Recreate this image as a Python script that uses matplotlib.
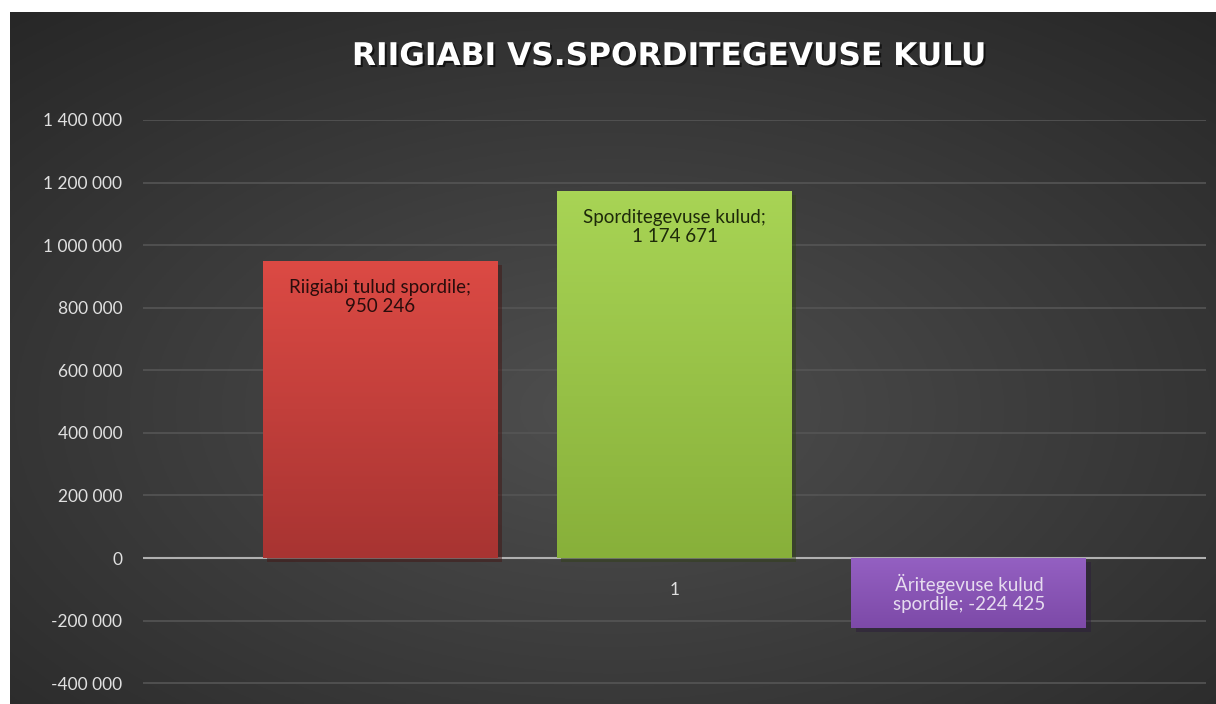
import numpy as np
import matplotlib.pyplot as plt
import matplotlib.patheffects as pe
from matplotlib.colors import to_rgb
from matplotlib.ticker import FuncFormatter

plt.rcParams['font.family'] = ['Lato', 'DejaVu Sans']

title = 'RIIGIABI VS.SPORDITEGEVUSE KULU'
values = [950246, 1174671, -224425]
labels = ['Riigiabi tulud spordile;\n950 246',
          'Sporditegevuse kulud;\n1 174 671',
          'Äritegevuse kulud\nspordile; -224 425']
category = ['1']
yticks = [-400000, -200000, 0, 200000, 400000, 600000, 800000, 1000000, 1200000, 1400000]

tops = ['#dc4a44', '#a8d455', '#9460c2']
bottoms = ['#a83432', '#88b03a', '#7d4aa8']
text_colors = ['#2a0d0c', '#1e2a0a', '#e6dcef']

fig = plt.figure(figsize=(12.16, 7.04), dpi=100)
fig.patch.set_facecolor('white')

# dark radial background
bg = fig.add_axes([10/1216, 0, 1 - 10/1216, 1 - 12/704])
yy, xx = np.mgrid[-1:1:300j, -1:1:500j]
r = np.sqrt((xx * 0.9) ** 2 + ((yy - 0.15) * 0.9) ** 2)
shade = 0.31 - 0.16 * np.clip(r, 0, 1.4) / 1.4
bg.imshow(np.dstack([shade] * 3), aspect='auto', extent=[0, 1, 0, 1])
bg.axis('off')

ax = fig.add_axes([143/1216, 0, (1206 - 143)/1216, 1 - 120/704])
ax.patch.set_alpha(0)

width = 0.221
offsets = [-0.277, 0.0, 0.277]
for i, v in enumerate(values):
    x = 0.5 + offsets[i]
    bar = ax.bar(x, v, width=width, color=tops[i], zorder=3,
                 path_effects=[pe.SimplePatchShadow(offset=(3, -3), alpha=0.5),
                               pe.Normal()])[0]
    # vertical gradient fill
    c1 = np.array(to_rgb(tops[i]))
    c2 = np.array(to_rgb(bottoms[i]))
    t = np.linspace(0, 1, 100)[:, None]
    grad = (c1 * (1 - t) + c2 * t)[:, None, :]
    lo, hi = min(0, v), max(0, v)
    im = ax.imshow(grad, aspect='auto', extent=[x - width/2, x + width/2, lo, hi],
                   origin='upper', zorder=4)
    im.set_clip_path(bar)
    if v >= 0:
        ax.annotate(labels[i], (x, v), xytext=(0, -13), textcoords='offset points',
                    ha='center', va='top', fontsize=13.5, color=text_colors[i],
                    zorder=5, linespacing=1.15)
    else:
        ax.annotate(labels[i], (x, v), xytext=(0, 11), textcoords='offset points',
                    ha='center', va='bottom', fontsize=13.5, color=text_colors[i],
                    zorder=5, linespacing=1.15)

ax.set_xlim(0, 1)
ax.set_ylim(-466450, 1400000)
ax.set_yticks(yticks)
ax.yaxis.set_major_formatter(FuncFormatter(lambda v, p: f'{int(v):,}'.replace(',', ' ')))
ax.set_xticks([0.5])
ax.set_xticklabels(category)
ax.spines['bottom'].set_position(('data', 0))
ax.tick_params(axis='y', length=0, pad=15, labelsize=12.5, labelcolor='#e0e0e0')
ax.tick_params(axis='x', length=0, pad=17, labelsize=12.5, labelcolor='#e0e0e0')
ax.grid(axis='y', color='#555555', linewidth=1.2, zorder=1)
ax.axhline(0, color='#b0b0b0', linewidth=1.5, zorder=2)
for s in ax.spines.values():
    s.set_visible(False)

fig.text(669/1216, 1 - 65/704, title, ha='center', va='baseline', color='white',
         fontsize=22.5, fontweight='bold', family=['DejaVu Sans'],
         path_effects=[pe.withSimplePatchShadow(offset=(1.5, -1.5), shadow_rgbFace='black', alpha=0.6)])

fig.savefig('out.png', dpi=100)
